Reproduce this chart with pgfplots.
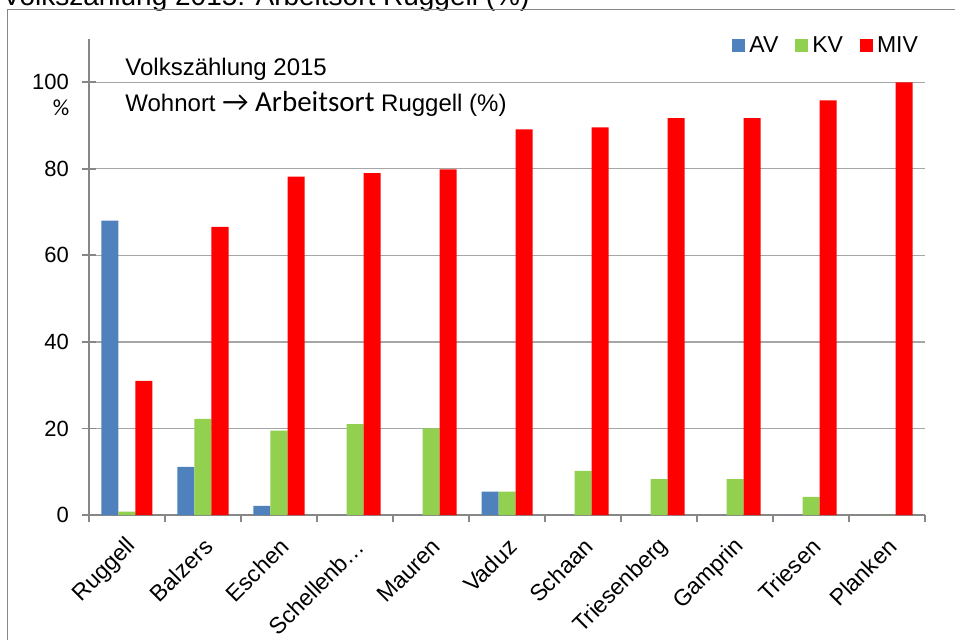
\documentclass[border=0pt]{standalone}
\usepackage{fontspec}
\setmainfont{Liberation Sans}
\newfontfamily\calibri{Carlito}
\usepackage{pgfplots}
\pgfplotsset{compat=1.18}
\definecolor{avblue}{HTML}{4F81BD}
\definecolor{kvgreen}{HTML}{92D050}
\definecolor{mivred}{HTML}{FF0000}
\definecolor{axgray}{HTML}{878787}
\definecolor{gridgray}{HTML}{A6A6A6}
\begin{document}
\begin{tikzpicture}
\useasboundingbox (0pt,0pt) rectangle (477.5pt,319.5pt);
\clip (0pt,0pt) rectangle (477.5pt,319.5pt);
\fill[white] (0pt,0pt) rectangle (477.5pt,319.5pt);
% cropped title and outer frame
\node[anchor=base west, inner sep=0pt, font=\fontsize{14}{16}\selectfont] at (1pt,316.8pt) {Volkszählung 2015: Arbeitsort Ruggell (\%)};
\draw[axgray, line width=0.75pt] (3.75pt,-20pt) rectangle (520pt,314.75pt);
\begin{axis}[
  at={(44.5pt,62pt)}, anchor=south west,
  scale only axis, width=418pt, height=238pt,
  xmin=-0.5, xmax=10.5, ymin=0, ymax=110,
  axis lines=left,
  axis line style={draw=axgray, line width=0.9pt, -},
  xtick={0,...,10},
  xticklabels={Ruggell,Balzers,Eschen,Schellenb…,Mauren,Vaduz,Schaan,Triesenberg,Gamprin,Triesen,Planken},
  minor xtick={-0.5,0.5,...,10.5},
  ytick={0,20,...,100},
  tick align=outside,
  major tick length=7.5pt,
  minor tick length=3.5pt,
  every major x tick/.style={draw=none},
  every minor x tick/.style={draw=axgray, line width=0.9pt},
  every major y tick/.style={draw=axgray, line width=0.9pt, xshift=3.75pt},
  ymajorgrids,
  major grid style={draw=gridgray, line width=0.6pt},
  /pgf/number format/assume math mode=true,
  yticklabel style={font=\fontsize{11}{13}\selectfont, xshift=1pt},
  xticklabel style={font=\fontsize{11.5}{13}\selectfont, rotate=45, anchor=east, inner sep=1pt, xshift=-1.5pt, yshift=-6.5pt},
  legend style={at={(0.883,0.985)}, anchor=center, draw=none, fill=none,
    font=\fontsize{11.5}{13}\selectfont, legend columns=3,
    /tikz/every even column/.append style={column sep=6.5pt}},
]
\addplot[ybar, bar width=8.5pt, bar shift=-8.5pt, fill=avblue, draw=none,
  legend image code/.code={\fill[avblue] (0pt,-3pt) rectangle (6.5pt,3.5pt);}]
  coordinates {(0,68.0) (1,11.1) (2,2.1) (3,0) (4,0) (5,5.4) (6,0) (7,0) (8,0) (9,0) (10,0)};
\addlegendentry{AV}
\addplot[ybar, bar width=8.5pt, bar shift=0pt, fill=kvgreen, draw=none,
  legend image code/.code={\fill[kvgreen] (0pt,-3pt) rectangle (6.5pt,3.5pt);}]
  coordinates {(0,0.8) (1,22.2) (2,19.5) (3,21.0) (4,20.0) (5,5.4) (6,10.2) (7,8.3) (8,8.3) (9,4.2) (10,0)};
\addlegendentry{KV}
\addplot[ybar, bar width=8.5pt, bar shift=8.5pt, fill=mivred, draw=none,
  legend image code/.code={\fill[mivred] (0pt,-3pt) rectangle (6.5pt,3.5pt);}]
  coordinates {(0,31.0) (1,66.6) (2,78.2) (3,79.0) (4,79.9) (5,89.1) (6,89.6) (7,91.7) (8,91.7) (9,95.8) (10,100)};
\addlegendentry{MIV}
\end{axis}
\node[anchor=base west, inner sep=0pt, font=\fontsize{12}{14}\selectfont] at (62.5pt,281.5pt) {Volkszählung 2015};
\node[anchor=base west, inner sep=0pt, font=\fontsize{12}{14}\selectfont] at (62.5pt,263.75pt) {Wohnort {\calibri\fontsize{14.5}{16}\selectfont → Arbeitsort} Ruggell (\%)};
\node[font=\calibri\fontsize{11.5}{13}\selectfont] at (30.5pt,265.5pt) {\%};
\end{tikzpicture}
\end{document}
